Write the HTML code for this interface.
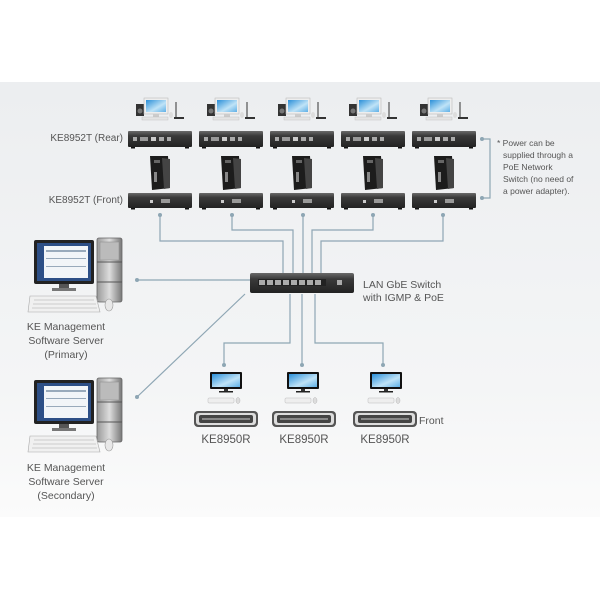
<!DOCTYPE html>
<html><head><meta charset="utf-8"><style>
html,body{margin:0;padding:0;background:#fff}
svg{display:block}
text{font-family:"Liberation Sans",sans-serif;fill:#555}
</style></head><body>
<svg width="600" height="600" viewBox="0 0 600 600" xmlns="http://www.w3.org/2000/svg">
<defs>
<linearGradient id="bg" x1="0" y1="0" x2="0" y2="1">
<stop offset="0" stop-color="#eceef0"/><stop offset="0.7" stop-color="#f4f5f6"/><stop offset="1" stop-color="#fbfbfb"/>
</linearGradient>
<linearGradient id="box" x1="0" y1="0" x2="0" y2="1">
<stop offset="0" stop-color="#6a6a6a"/><stop offset="0.3" stop-color="#3a3a3a"/><stop offset="1" stop-color="#222"/>
</linearGradient>
<linearGradient id="scr" x1="0" y1="0" x2="1" y2="1">
<stop offset="0" stop-color="#2a8fd8"/><stop offset="0.6" stop-color="#bfe3f7"/><stop offset="1" stop-color="#5fb0e6"/>
</linearGradient>
<linearGradient id="tw" x1="0" y1="0" x2="1" y2="0">
<stop offset="0" stop-color="#999"/><stop offset="0.5" stop-color="#ddd"/><stop offset="1" stop-color="#777"/>
</linearGradient>
<g id="rear">
<rect x="0" y="0" width="64" height="16" rx="1" fill="url(#box)"/>
<rect x="5" y="6" width="4" height="4" fill="#aaa"/><rect x="12" y="6" width="8" height="4" fill="#999"/>
<rect x="23" y="6" width="5" height="4" fill="#ccc"/><rect x="31" y="6" width="5" height="4" fill="#aaa"/><rect x="39" y="6" width="4" height="4" fill="#aaa"/>
<rect x="3" y="16" width="4" height="1.5" fill="#111"/><rect x="57" y="16" width="4" height="1.5" fill="#111"/>
</g>
<g id="front">
<rect x="0" y="0" width="64" height="15" rx="1" fill="url(#box)"/>
<rect x="22" y="7" width="3" height="3" fill="#ccc"/><rect x="33" y="6" width="9" height="4" fill="#999"/>
<rect x="3" y="15" width="4" height="1.5" fill="#111"/><rect x="57" y="15" width="4" height="1.5" fill="#111"/>
</g>
<g id="desk">
<rect x="0" y="6" width="8" height="12" fill="#333"/><circle cx="4" cy="13" r="2.5" fill="#777"/>
<rect x="8" y="0" width="24" height="16" fill="#eee" stroke="#bbb" stroke-width="0.6"/>
<rect x="10" y="2" width="20" height="12" fill="url(#scr)"/>
<rect x="17" y="16" width="6" height="3" fill="#ccc"/>
<rect x="6" y="19" width="26" height="3" fill="#e4e4e4" stroke="#bbb" stroke-width="0.4"/>
<ellipse cx="35" cy="17" rx="2" ry="3" fill="#ddd"/>
<line x1="40" y1="4" x2="40" y2="19" stroke="#333" stroke-width="1"/>
<rect x="38" y="19" width="10" height="2" fill="#333"/>
</g>
<g id="tower">
<path d="M2 0 L20 0 L22 32 L4 34 Z" fill="#1c1c1c"/>
<path d="M14 2 L22 3 L22 32 L16 33 Z" fill="#444"/>
<rect x="6" y="4" width="6" height="3" fill="#666"/><rect x="6" y="16" width="3" height="10" fill="#888"/>
</g>
<g id="mon">
<rect x="0" y="0" width="32" height="17" rx="1" fill="#111"/>
<rect x="2" y="2" width="28" height="13" fill="url(#scr)"/>
<rect x="14" y="17" width="4" height="2" fill="#333"/>
<rect x="9" y="19" width="14" height="1.5" fill="#222"/>
<rect x="-2" y="26" width="26" height="5" rx="1" fill="#eee" stroke="#bbb" stroke-width="0.5"/>
<ellipse cx="28" cy="28.5" rx="2" ry="3" fill="#ddd" stroke="#aaa" stroke-width="0.4"/>
</g>
<g id="rx">
<rect x="0" y="0" width="64" height="16" rx="4" fill="#555"/>
<rect x="2" y="2" width="60" height="12" rx="3" fill="#ddd"/>
<rect x="5" y="4" width="54" height="8" rx="2" fill="#444"/>
<rect x="8" y="7" width="48" height="2" fill="#888"/>
</g>
<g id="srv">
<rect x="0" y="0" width="60" height="44" rx="2" fill="#222"/>
<rect x="3" y="3" width="54" height="38" fill="#2d4f86"/>
<rect x="10" y="6" width="44" height="32" fill="#f2f5f8"/>
<rect x="12" y="10" width="40" height="2" fill="#9ab"/><rect x="12" y="18" width="40" height="1" fill="#9ab"/><rect x="12" y="26" width="40" height="1" fill="#9ab"/>
<rect x="25" y="44" width="10" height="4" fill="#555"/><rect x="18" y="48" width="24" height="3" fill="#777"/>
<rect x="63" y="-2" width="25" height="64" rx="2" fill="url(#tw)" stroke="#666" stroke-width="0.8"/>
<rect x="66" y="2" width="19" height="18" fill="#bbb" stroke="#888" stroke-width="0.5"/>
<line x1="63" y1="22" x2="88" y2="22" stroke="#555"/><line x1="63" y1="42" x2="88" y2="42" stroke="#555"/>
<path d="M-4 56 L62 56 L66 72 L-6 72 Z" fill="#f0f0f0" stroke="#aaa" stroke-width="0.6"/>
<g stroke="#ccc" stroke-width="1"><line x1="0" y1="60" x2="60" y2="60"/><line x1="-1" y1="64" x2="62" y2="64"/><line x1="-2" y1="68" x2="63" y2="68"/></g>
<ellipse cx="75" cy="65" rx="4" ry="6" fill="#e8e8e8" stroke="#999" stroke-width="0.6"/>
</g>
</defs>
<rect x="0" y="0" width="600" height="600" fill="#fff"/>
<rect x="0" y="82" width="600" height="435" fill="url(#bg)"/>

<!-- connectors -->
<g stroke="#8ea6b4" stroke-width="1.2" fill="none">
<polyline points="160,215 160,241 283,241 283,273"/>
<polyline points="232,215 232,230 293,230 293,273"/>
<polyline points="303,215 303,273"/>
<polyline points="373,215 373,230 312,230 312,273"/>
<polyline points="443,215 443,241 321,241 321,273"/>
<line x1="137" y1="280" x2="250" y2="280"/>
<line x1="137" y1="397" x2="245" y2="294"/>
<polyline points="290,294 290,343 224,343 224,365"/>
<polyline points="302,294 302,365"/>
<polyline points="315,294 315,343 383,343 383,365"/>
<polyline points="482,139 490,139 490,198 482,198"/>
</g>
<g fill="#8ea6b4">
<circle cx="160" cy="215" r="2"/><circle cx="232" cy="215" r="2"/><circle cx="303" cy="215" r="2"/><circle cx="373" cy="215" r="2"/><circle cx="443" cy="215" r="2"/>
<circle cx="137" cy="280" r="2"/><circle cx="137" cy="397" r="2"/>
<circle cx="224" cy="365" r="2"/><circle cx="302" cy="365" r="2"/><circle cx="383" cy="365" r="2"/>
<circle cx="482" cy="139" r="2"/><circle cx="482" cy="198" r="2"/>
</g>

<!-- top units -->
<g transform="translate(128,131)"><use href="#rear"/></g>
<g transform="translate(199,131)"><use href="#rear"/></g>
<g transform="translate(270,131)"><use href="#rear"/></g>
<g transform="translate(341,131)"><use href="#rear"/></g>
<g transform="translate(412,131)"><use href="#rear"/></g>
<g transform="translate(128,193)"><use href="#front"/></g>
<g transform="translate(199,193)"><use href="#front"/></g>
<g transform="translate(270,193)"><use href="#front"/></g>
<g transform="translate(341,193)"><use href="#front"/></g>
<g transform="translate(412,193)"><use href="#front"/></g>
<g transform="translate(136,98)"><use href="#desk"/></g>
<g transform="translate(207,98)"><use href="#desk"/></g>
<g transform="translate(278,98)"><use href="#desk"/></g>
<g transform="translate(349,98)"><use href="#desk"/></g>
<g transform="translate(420,98)"><use href="#desk"/></g>
<g transform="translate(148,156)"><use href="#tower"/></g>
<g transform="translate(219,156)"><use href="#tower"/></g>
<g transform="translate(290,156)"><use href="#tower"/></g>
<g transform="translate(361,156)"><use href="#tower"/></g>
<g transform="translate(432,156)"><use href="#tower"/></g>

<!-- switch -->
<rect x="250" y="273" width="104" height="20" rx="2" fill="url(#box)"/>
<rect x="258" y="279" width="68" height="7" fill="#222"/>
<g fill="#aaa"><rect x="259" y="280" width="6" height="5"/><rect x="267" y="280" width="6" height="5"/><rect x="275" y="280" width="6" height="5"/><rect x="283" y="280" width="6" height="5"/><rect x="291" y="280" width="6" height="5"/><rect x="299" y="280" width="6" height="5"/><rect x="307" y="280" width="6" height="5"/><rect x="315" y="280" width="6" height="5"/><rect x="337" y="280" width="5" height="5"/></g>
<text x="363" y="288" font-size="10.5">LAN GbE Switch</text>
<text x="363" y="301" font-size="10.5">with IGMP &amp; PoE</text>

<!-- receivers -->
<g transform="translate(210,372)"><use href="#mon"/></g>
<g transform="translate(287,372)"><use href="#mon"/></g>
<g transform="translate(370,372)"><use href="#mon"/></g>
<g transform="translate(194,411)"><use href="#rx"/></g>
<g transform="translate(272,411)"><use href="#rx"/></g>
<g transform="translate(353,411)"><use href="#rx"/></g>
<text x="226" y="443" font-size="11.5" text-anchor="middle">KE8950R</text>
<text x="304" y="443" font-size="11.5" text-anchor="middle">KE8950R</text>
<text x="385" y="443" font-size="11.5" text-anchor="middle">KE8950R</text>
<text x="419" y="424" font-size="10.5">Front</text>

<!-- servers -->
<g transform="translate(34,240)"><use href="#srv"/></g>
<g transform="translate(34,380)"><use href="#srv"/></g>
<g font-size="10.5" text-anchor="middle">
<text x="66" y="330">KE Management</text><text x="66" y="344">Software Server</text><text x="66" y="358">(Primary)</text>
<text x="66" y="471">KE Management</text><text x="66" y="485">Software Server</text><text x="66" y="499">(Secondary)</text>
</g>

<!-- labels -->
<text x="123" y="141" font-size="10" text-anchor="end">KE8952T (Rear)</text>
<text x="123" y="203" font-size="10" text-anchor="end">KE8952T (Front)</text>
<g font-size="8.5">
<text x="497" y="146">* Power can be</text>
<text x="503" y="158">supplied through a</text>
<text x="503" y="170">PoE Network</text>
<text x="503" y="182">Switch (no need of</text>
<text x="503" y="194">a power adapter).</text>
</g>
</svg>
</body></html>
